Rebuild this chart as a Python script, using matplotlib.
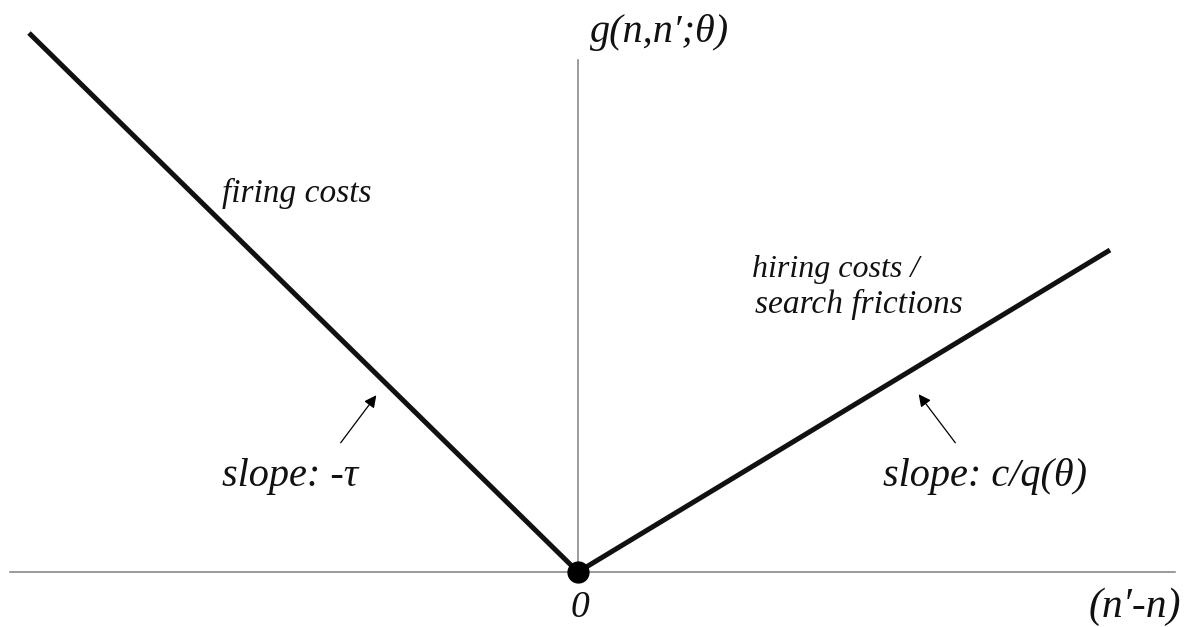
import matplotlib
matplotlib.use("Agg")
import matplotlib.pyplot as plt

# V-shaped adjustment cost (origin at 0); units are arbitrary
kink_x = [-549, 0, 532]
kink_y = [539, 0, 322]

x_axis = [-568, 597]
y_axis = [0, 512]

fig = plt.figure(figsize=(11.84, 6.27), dpi=100)
ax = fig.add_axes([0, 0, 1, 1])
ax.set_xlim(-578, 606)
ax.set_ylim(-55, 572)
ax.axis("off")

ax.plot(x_axis, [0, 0], color="#808080", lw=1.1)
ax.plot([0, 0], y_axis, color="#808080", lw=1.1)
ax.plot(kink_x, kink_y, color="#111111", lw=3.6, solid_capstyle="butt", solid_joinstyle="miter")
ax.plot([0], [0], "o", color="black", ms=15)

font = dict(family="Liberation Serif", style="italic", color="#111111")

ax.text(12, 530, "g(n,n′;θ)", fontsize=29, va="baseline", ha="left", **font)
ax.text(-356, 370, "firing costs", fontsize=24, va="baseline", ha="left", **font)
ax.text(174, 295, "hiring costs /", fontsize=23, va="baseline", ha="left", **font)
ax.text(177, 259, "search frictions", fontsize=24, va="baseline", ha="left", **font)
ax.text(-356, 86, "slope: -τ", fontsize=29, va="baseline", ha="left", **font)
ax.text(305, 86, "slope: c/q(θ)", fontsize=29, va="baseline", ha="left", **font)
ax.text(2, -45, "0", fontsize=27, va="baseline", ha="center", **font)
ax.text(603, -45, "(n′-n)", fontsize=30, va="baseline", ha="right", **font)

arrow = dict(arrowstyle="-|>", color="black", lw=0.9, mutation_scale=18)
ax.annotate("", xy=(-200, 179), xytext=(-239, 127), arrowprops=arrow)
ax.annotate("", xy=(339, 180), xytext=(379, 127), arrowprops=arrow)

fig.savefig("out.png", dpi=100)
